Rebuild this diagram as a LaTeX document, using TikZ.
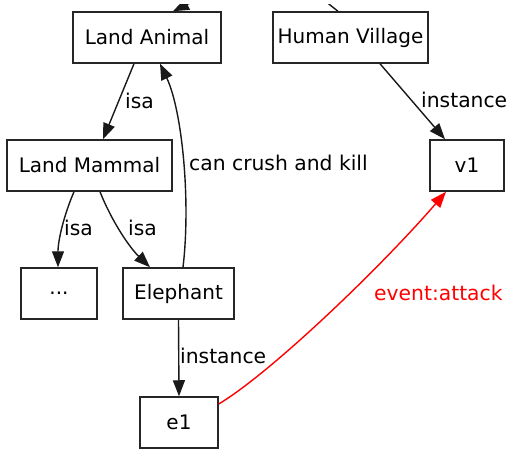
\documentclass[tikz,border=0pt]{standalone}
\usepackage{fontspec}
\setmainfont{DejaVu Sans}
\usetikzlibrary{arrows.meta}
\begin{document}
\begin{tikzpicture}[x=1pt,y=-1pt,
  box/.style={draw=black!85, line width=1.5pt, minimum height=51pt, inner sep=0pt,
    font=\fontsize{20}{23}\selectfont},
  lbl/.style={anchor=west, inner sep=0pt, font=\fontsize{20.3}{23}\selectfont},
  edge/.style={line width=1.4pt, draw=black!90},
  tip/.style={-{Triangle[length=16pt,width=12pt]}},
  arr/.style={edge, tip}]
\useasboundingbox (0,0) rectangle (506,449);
\clip (0,0) rectangle (506,449);

% concept boxes
\node[box, minimum width=148pt] (LA) at (147,37.5) {Land Animal};
\node[box, minimum width=155pt] (HV) at (350.5,37.5) {Human Village};
\node[box, minimum width=165pt] (LM) at (89.5,165.5) {Land Mammal};
\node[box, minimum width=74pt]  (v1) at (467,165.5) {v1};
\node[box, minimum width=76pt]  (dots) at (59,293.5) {...};
\node[box, minimum width=111pt] (El) at (178.5,293.5) {Elephant};
\node[box, minimum width=78pt]  (e1) at (179,422.5) {e1};

% edges leaving the frame at the top
\begin{scope}
\clip (0,5) rectangle (506,449);
\coordinate (topA) at (220,-8);
\coordinate (topB) at (314,-8);
\draw[arr] (topA) .. controls (192,2) .. ([xshift=26pt]LA.north);
\draw[edge] (topB) .. controls (330,5) .. ([xshift=-12.5pt]HV.north);
\end{scope}

% relations
\draw[arr] ([xshift=-13pt]LA.south) -- ([xshift=13.5pt]LM.north);
\draw[arr] ([xshift=4.5pt]El.north) .. controls (191,200) and (182,110) .. ([xshift=13pt]LA.south);
\draw[arr] ([xshift=-15.5pt]LM.south) .. controls (64,215) and (58,240) .. ([xshift=-1pt]dots.north);
\draw[arr] ([xshift=10.5pt]LM.south) .. controls (112,222) and (130,248) .. ([xshift=-28.5pt]El.north);
\draw[arr] ([xshift=29.5pt]HV.south) -- ([xshift=-22pt]v1.north);
\draw[arr] (El.south) -- (e1.north);
\draw[edge, draw=red, tip, red]
  ([yshift=18.5pt]e1.east) .. controls (272,372) and (382,266) .. ([xshift=-21pt]v1.south);

% edge labels
\node[lbl] (l1) at (125,101) {isa};
\node[lbl] (l2) at (189,163) {can crush and kill};
\node[lbl] (l3) at (64,228) {isa};
\node[lbl] (l4) at (128,228) {isa};
\node[lbl] (l5) at (421,100) {instance};
\node[lbl] (l6) at (180,356) {instance};
\node[lbl, text=red] (l7) at (374,293) {event:attack};
\end{tikzpicture}
\end{document}
